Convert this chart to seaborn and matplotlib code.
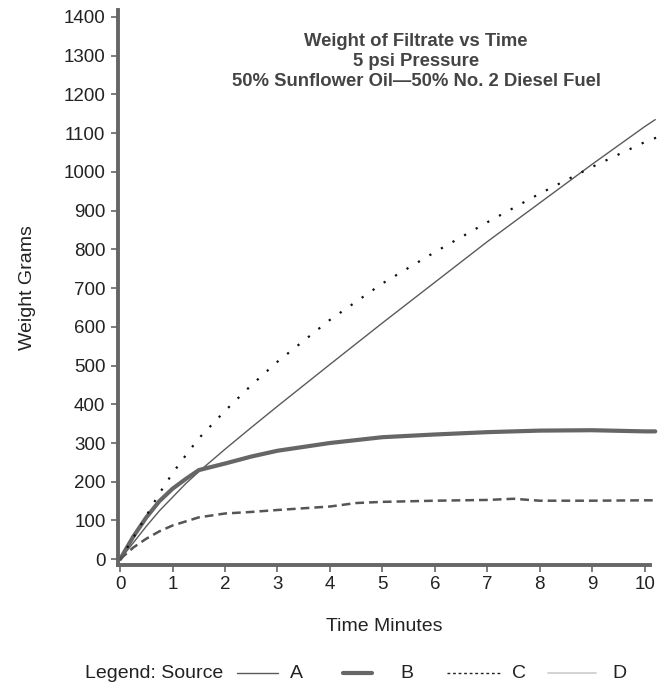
import matplotlib
matplotlib.use("Agg")
import matplotlib.pyplot as plt
import seaborn as sns
import numpy as np
from matplotlib.lines import Line2D

# ---- data ----
time_a = [0, 0.25, 0.5, 0.75, 1, 1.25, 1.5, 2, 2.5, 3, 4, 5, 6, 7, 8, 9, 10, 10.2]
weight_a = [0, 42, 85, 125, 160, 195, 226, 284, 340, 395, 503, 610, 715, 820, 920, 1020, 1117, 1135]

time_b = [0, 0.25, 0.5, 0.75, 1, 1.25, 1.5, 2, 2.5, 3, 4, 5, 6, 7, 8, 9, 10, 10.2]
weight_b = [0, 58, 108, 150, 182, 207, 230, 247, 265, 280, 300, 315, 322, 328, 332, 333, 330, 330]

time_c = [0, 0.25, 0.5, 0.75, 1, 1.25, 1.5, 2, 2.5, 3, 4, 5, 6, 7, 8, 9, 10, 10.25]
weight_c = [0, 55, 112, 170, 222, 268, 312, 383, 449, 510, 618, 712, 793, 870, 944, 1013, 1077, 1090]

time_d = [0, 0.25, 0.5, 0.75, 1, 1.5, 2, 2.5, 3, 4, 4.5, 5, 6, 7, 7.5, 8, 9, 10, 10.2]
weight_d = [0, 30, 53, 72, 87, 108, 118, 122, 127, 136, 145, 148, 151, 153, 156, 151, 151, 152, 152]

x_ticks = list(range(0, 11))
y_ticks = list(range(0, 1401, 100))
title_lines = ["Weight of Filtrate vs Time", "5 psi Pressure",
               "50% Sunflower Oil\u201450% No. 2 Diesel Fuel"]
legend_labels = ["A", "B", "C", "D"]

# ---- style ----
sns.set_style("white")
plt.rcParams["font.family"] = ["Liberation Sans", "DejaVu Sans"]

fig = plt.figure(figsize=(6.68, 6.88), dpi=100)
ax = fig.add_axes([118 / 668, 1 - 565 / 688, 532 / 668, 555 / 688])

text_col = "#222222"
spine_col = "#666666"

styles = {
    "A": dict(color="#5a5a5a", linewidth=1.0, linestyle="-"),
    "B": dict(color="#666666", linewidth=3.0, linestyle="-"),
    "C": dict(color="#111111", linewidth=1.6, linestyle=(0, (1, 5))),
    "D": dict(color="#555555", linewidth=1.8, linestyle=(0, (3.5, 2))),
}

for (t, w, key) in [(time_a, weight_a, "A"), (time_b, weight_b, "B"),
                    (time_c, weight_c, "C"), (time_d, weight_d, "D")]:
    sns.lineplot(x=t, y=w, ax=ax, clip_on=False, sort=False, **styles[key])

ax.set_xlim(-0.04, 10.1)
ax.set_ylim(-15, 1418)
ax.set_xticks(x_ticks)
ax.set_yticks(y_ticks)
ax.tick_params(axis="both", direction="out", length=5, width=1.2, color=spine_col,
               labelsize=13.5, labelcolor=text_col, left=True, bottom=True)
ax.tick_params(axis="y", pad=4)
ax.tick_params(axis="x", pad=3)

for s in ["top", "right"]:
    ax.spines[s].set_visible(False)
for s in ["left", "bottom"]:
    ax.spines[s].set_color(spine_col)
    ax.spines[s].set_linewidth(2.8)

ax.set_xlabel("Time Minutes", fontsize=14, color=text_col, labelpad=18)
ax.set_ylabel("Weight Grams", fontsize=14, color=text_col, labelpad=20)

for i, line in enumerate(title_lines):
    fig.text(416 / 668, 1 - (42 + 20 * i) / 688, line, ha="center", va="center",
             fontsize=13.3, fontweight="bold", color="#444444")

# ---- bottom legend ----
ly = 1 - 673 / 688
fig.text(85 / 668, ly, "Legend: Source", ha="left", va="center", fontsize=14, color=text_col)
legend_items = [
    (237, 278, 290, "A"),
    (343, 372, 400, "B"),
    (447, 500, 512, "C"),
    (548, 596, 612, "D"),
]
for (x0, x1, xt, key) in legend_items:
    st = dict(styles[key])
    if key == "D":
        st = dict(color="#cccccc", linewidth=1.2, linestyle="-")
    if key == "C":
        st = dict(color="#222222", linewidth=1.0, linestyle=(0, (2, 2)))
    fig.add_artist(Line2D([x0 / 668, x1 / 668], [ly, ly], transform=fig.transFigure, **st))
    fig.text(xt / 668, ly, key, ha="left", va="center", fontsize=14, color=text_col)

fig.savefig("out.png", dpi=100, facecolor="white")
